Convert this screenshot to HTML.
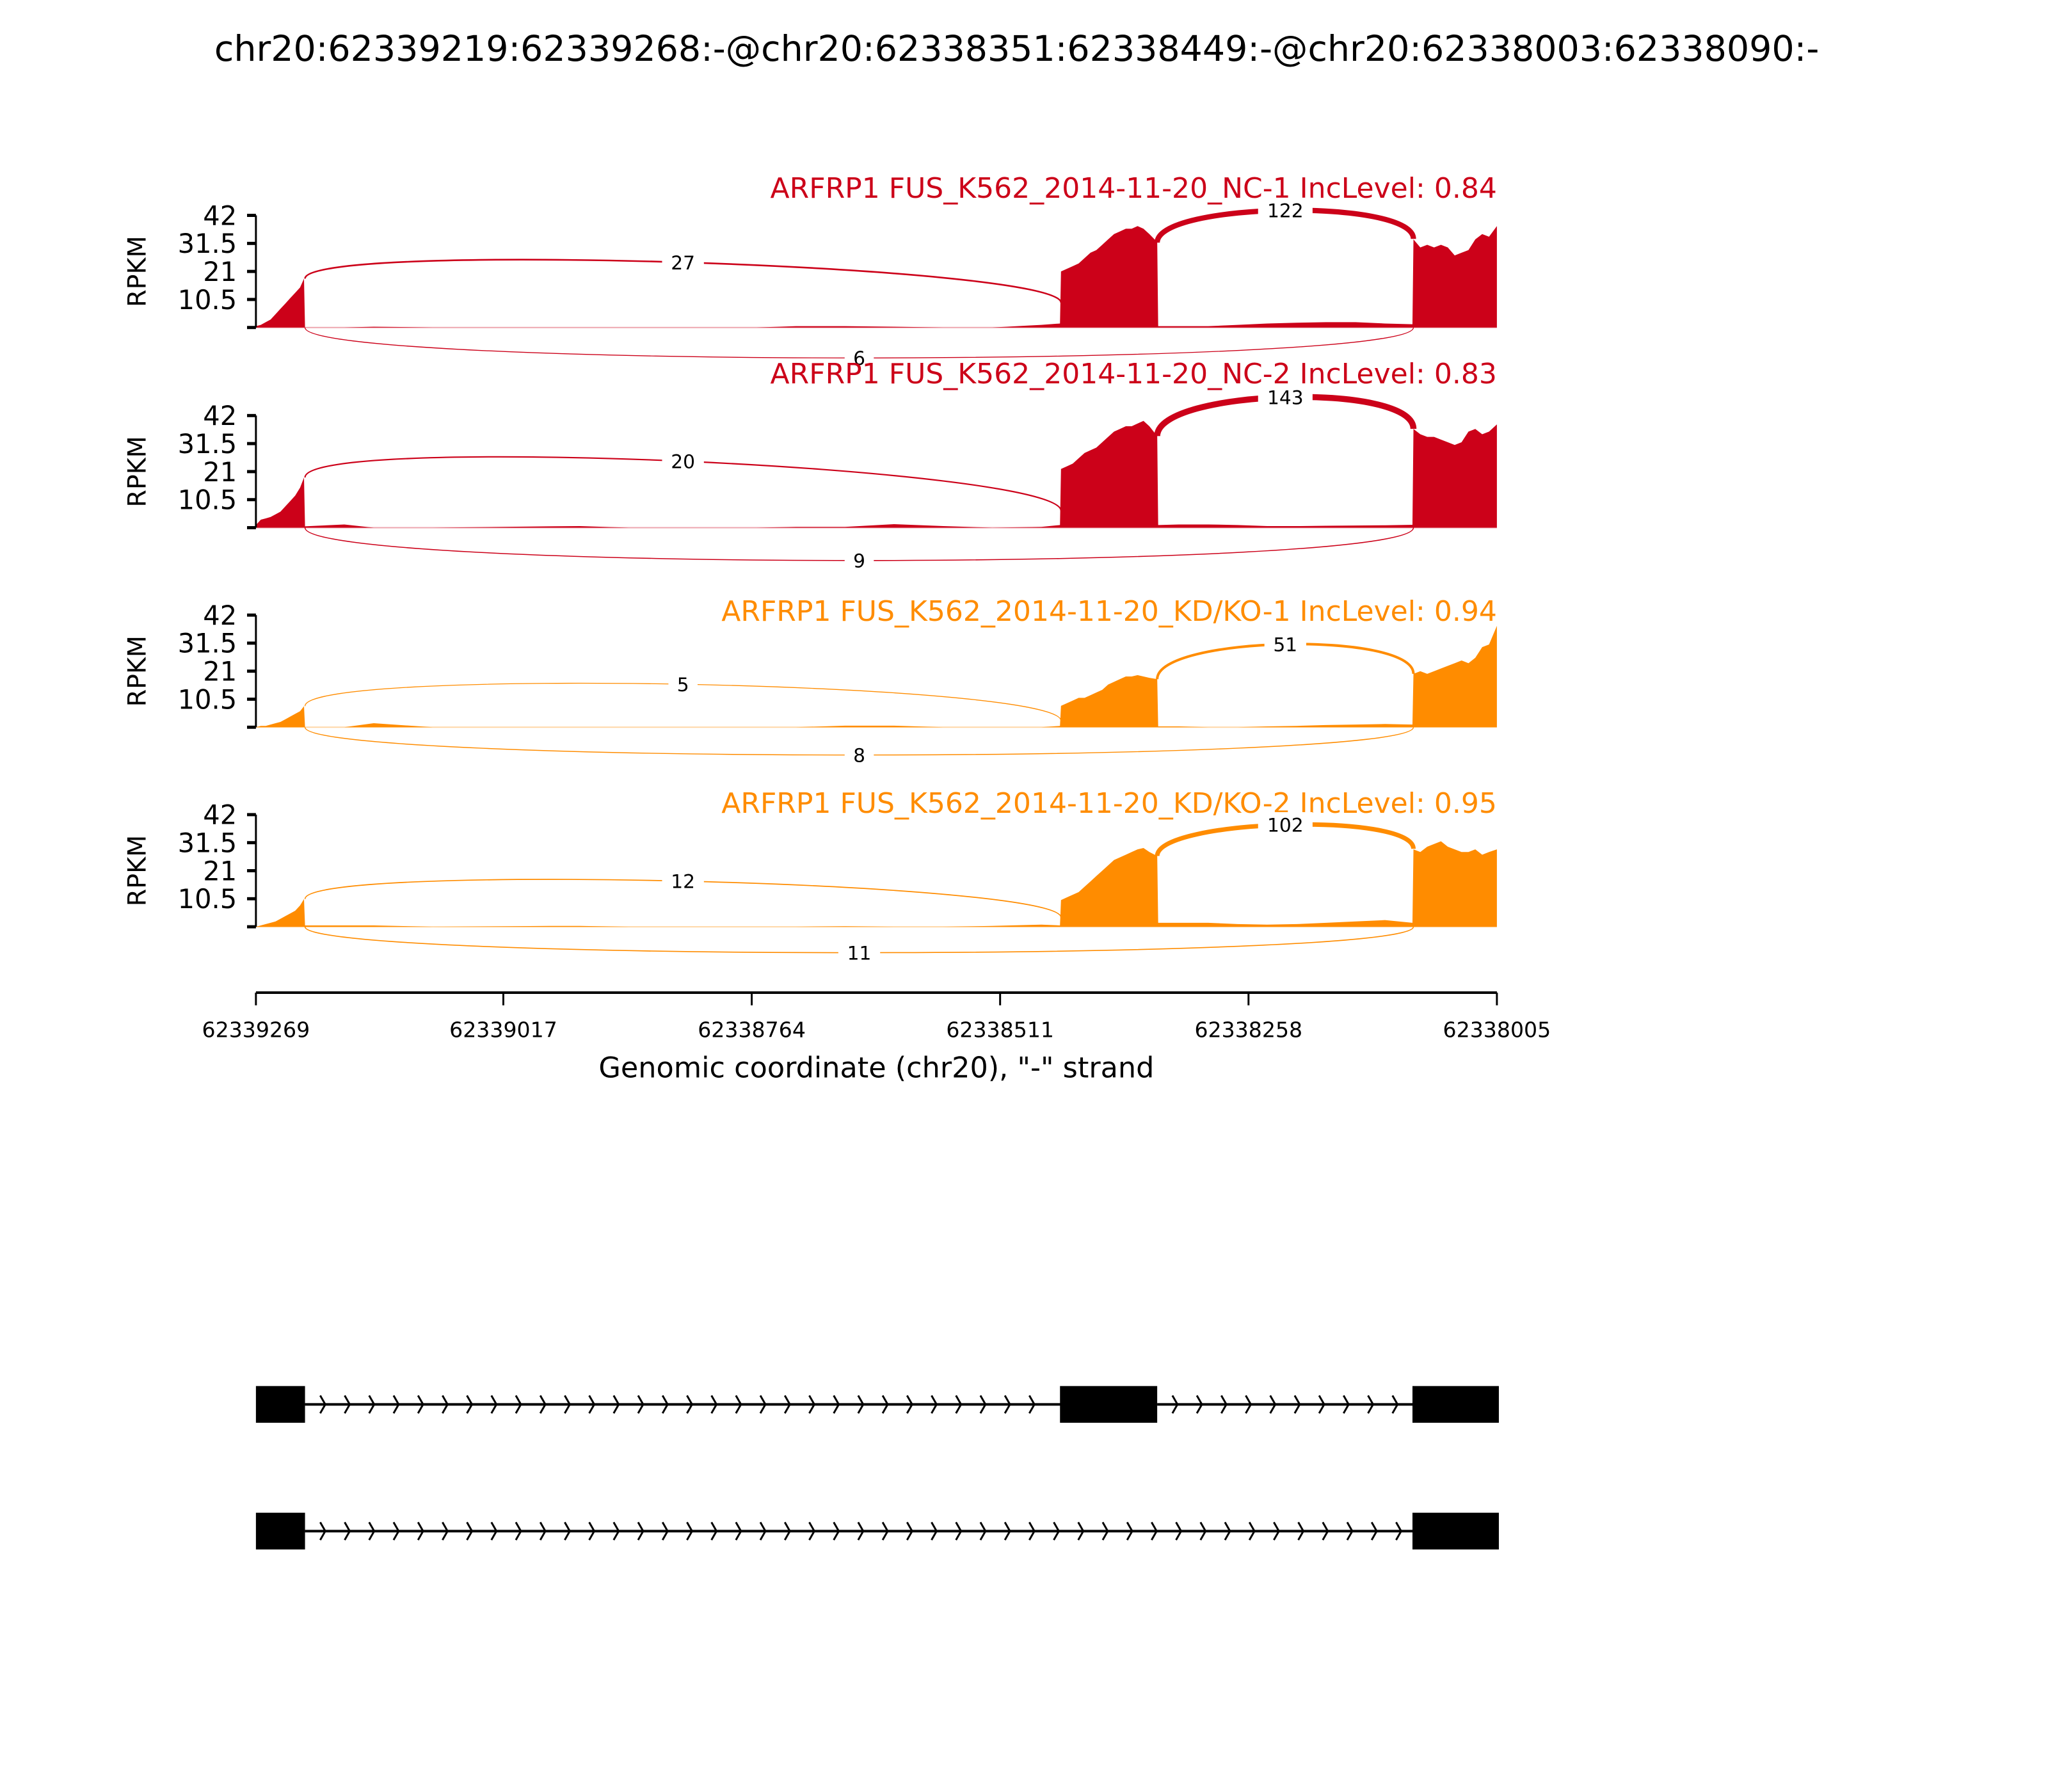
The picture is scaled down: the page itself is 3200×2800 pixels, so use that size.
<!DOCTYPE html>
<html><head><meta charset="utf-8"><style>
html,body{margin:0;padding:0;background:#fff;}
svg{display:block;font-family:"DejaVu Sans","Liberation Sans",sans-serif;}
</style></head><body>
<svg id="chart" width="3200" height="2800" viewBox="0 0 3200 2800" xmlns="http://www.w3.org/2000/svg">
<rect x="0" y="0" width="3200" height="2800" fill="#fff"/>
<g transform="scale(0.9898)">
<text x="1605" y="96" font-size="56" text-anchor="middle" fill="#000">chr20:62339219:62339268:-@chr20:62338351:62338449:-@chr20:62338003:62338090:-</text>
<g id="panels"></g>
<g id="xaxis"></g>
<g id="models"></g>
</g>
</svg>
<script>
// ---- data ----
const genomeStart = 62339269;
const genomeEnd = 62338005;
const xTickLabels = [62339269, 62339017, 62338764, 62338511, 62338258, 62338005];
const yTickValues = [0, 10.5, 21, 31.5, 42];
const yMax = 42;
// exons (genomic start/end, minus strand)
const exonStarts = [62339268, 62338449, 62338090];
const exonEnds = [62339219, 62338351, 62338003];
// coverage sample positions as bp offsets from genomeStart
const covOffsets = [0,5,10,15,20,25,30,35,40,45,49,
  50,90,120,180,300,330,380,430,470,510,550,600,650,700,750,800,819,
  820,826,832,838,844,850,856,862,868,874,880,886,892,898,904,910,918,
  919,940,970,1000,1030,1060,1090,1120,1150,1178,
  1179,1186,1193,1200,1207,1214,1221,1228,1235,1242,1249,1256,1264];
const sampleNames = ["ARFRP1 FUS_K562_2014-11-20_NC-1 IncLevel: 0.84","ARFRP1 FUS_K562_2014-11-20_NC-2 IncLevel: 0.83","ARFRP1 FUS_K562_2014-11-20_KD/KO-1 IncLevel: 0.94","ARFRP1 FUS_K562_2014-11-20_KD/KO-2 IncLevel: 0.95"];
const covNC1 = [0.5,1,2,3,5,7,9,11,13,15,18.3,
  0,0,0.3,0,0,0,0,0,0,0,0.5,0.5,0.3,0,0,1,1.5,
  21,22,23,24,26,28,29,31,33,35,36,37,37,38,37,35,32,
  0.5,0.5,0.5,1,1.5,1.8,2,2,1.5,1.2,
  33,30,31,30,31,30,27,28,29,33,35,34,38];
const covNC2 = [1,3,3.5,4,5,6,8,10,12,15,18.8,
  0.5,1.2,0,0,0.5,0.6,0,0,0,0,0.3,0.3,1.3,0.6,0,0.3,1,
  22,23,24,26,28,29,30,32,34,36,37,38,38,39,40,38,34.3,
  1,1.2,1.2,1,0.6,0.6,0.7,0.8,0.9,1.1,
  37,35,34,34,33,32,31,32,36,37,35,36,38.7];
const covKD1 = [0,0.5,0.5,1,1.5,2,3,4,5,6,7.9,
  0,0,1.5,0,0,0,0,0,0,0,0,0.6,0.6,0,0,0,0.5,
  8,9,10,11,11,12,13,14,16,17,18,19,19,19.5,19,18.5,18,
  0.3,0.3,0,0,0.3,0.5,0.8,1,1.2,1,
  20,21,20,21,22,23,24,25,24,26,30,31,38];
const covKD2 = [0,0.5,1,1.5,2,3,4,5,6,8,10.4,
  0.5,0.5,0.5,0,0.3,0.3,0,0,0,0,0,0.2,0,0,0.3,0.8,0.5,
  10,11,12,13,15,17,19,21,23,25,26,27,28,29,29.5,28,26.5,
  1.5,1.5,1.5,1,0.8,1,1.5,2,2.5,1.5,
  29,28,30,31,32,30,29,28,28,29,27,28,29];
// junction counts: [exon1-exon2, exon2-exon3, exon1-exon3 (skip)]
const juncNC1 = [27,122,6];
const juncNC2 = [20,143,9];
const juncKD1 = [5,51,8];
const juncKD2 = [12,102,11];
// arc endpoint RPKM and label height RPKM
const arcStartNC1 = [18.3,31.8], arcEndNC1 = [9.3,33.2], arcPeakNC1 = [24.4,43.9,-11.4];
const arcStartNC2 = [18.8,34.3], arcEndNC2 = [6.3,37], arcPeakNC2 = [24.9,48.9,-12.3];
const arcStartKD1 = [7.9,18], arcEndKD1 = [2.4,20], arcPeakKD1 = [16.1,31.1,-10.4];
const arcStartKD2 = [10.4,26.5], arcEndKD2 = [3.5,29.2], arcPeakKD2 = [17.1,38.2,-9.7];

// ---- layout ----
const X0 = 404, X1 = 2363, PH = 177;
const panelTops = [340, 656, 971, 1286];
const titleYs = [312, 605, 980, 1283];
const colors = ["#cc0119","#cc0119","#ff8c00","#ff8c00"];
const covs = [covNC1,covNC2,covKD1,covKD2];
const juncs = [juncNC1,juncNC2,juncKD1,juncKD2];
const aS = [arcStartNC1,arcStartNC2,arcStartKD1,arcStartKD2];
const aE = [arcEndNC1,arcEndNC2,arcEndKD1,arcEndKD2];
const aP = [arcPeakNC1,arcPeakNC2,arcPeakKD1,arcPeakKD2];
const NS = "http://www.w3.org/2000/svg";
function xG(g){ return X0 + (genomeStart - g) / (genomeStart - genomeEnd) * (X1 - X0); }
function xOff(d){ return xG(genomeStart - d); }
function mk(tag, attrs, parent){ const e = document.createElementNS(NS, tag); for (const k in attrs) e.setAttribute(k, attrs[k]); parent.appendChild(e); return e; }

const panelsG = document.getElementById('panels');
for (let p = 0; p < 4; p++) {
  const top = panelTops[p];
  const yS = v => top + PH - v / yMax * PH;
  const g = mk('g', {}, panelsG);
  
  
  const col = colors[p];
  const bl = mk('line', {x1:X0, x2:X1, y1:yS(0), y2:yS(0), stroke:col, 'stroke-opacity':0.35, 'stroke-width':2}, g);
  
  
  let d = 'M' + xOff(covOffsets[0]) + ',' + yS(0);
  covs[p].forEach((v, i) => { d += ' L' + xOff(covOffsets[i]).toFixed(1) + ',' + yS(v).toFixed(1); });
  d += ' L' + xOff(covOffsets[covOffsets.length-1]) + ',' + yS(0) + ' Z';
  const area = mk('path', {d:d, fill:col}, g);
  
  
  const ax = mk('line', {x1:X0, x2:X0, y1:top, y2:top+PH, stroke:'#000', 'stroke-width':3}, g);
  
  
  yTickValues.forEach(v => {
    const t = mk('line', {x1:X0-14, x2:X0, y1:yS(v), y2:yS(v), stroke:'#000', 'stroke-width':5}, g);
    
    
    if (v > 0) {
      const tl = mk('text', {x:X0-30, y:yS(v)+15, 'font-size':42, 'text-anchor':'end', fill:'#000'}, g);
      tl.textContent = String(v);
      
      
    }
  });
  const yl = mk('text', {x:0, y:0, 'font-size':40, 'text-anchor':'middle', fill:'#000', transform:'translate(230,' + (top+PH/2) + ') rotate(-90)'}, g);
  yl.textContent = 'RPKM';
  
  
  const tt = mk('text', {x:X1, y:titleYs[p], 'font-size':44.5, 'text-anchor':'end', fill:col}, g);
  tt.textContent = sampleNames[p];
  
  
  const ends = [[xG(exonEnds[0]), xG(exonStarts[1])], [xG(exonEnds[1]), xG(exonStarts[2])], [xG(exonEnds[0]), xG(exonStarts[2])]];
  for (let j = 0; j < 3; j++) {
    const a = ends[j][0], b = ends[j][1];
    const y1 = j < 2 ? yS(aS[p][j]) : yS(0);
    const y2 = j < 2 ? yS(aE[p][j]) : yS(0);
    const yPk = yS(aP[p][j]);
    const h = (yPk - (y1 + y2) / 2) / 0.75;
    const w = 1 + juncs[p][j] * 0.06;
    const arc = mk('path', {d:'M'+a+','+y1+' C'+a+','+(y1+h)+' '+b+','+(y2+h)+' '+b+','+y2, fill:'none', stroke:col, 'stroke-width':w}, g);
    
    
    const mx = (a + b) / 2;
    const lab = String(juncs[p][j]);
    const bw = lab.length * 20 + 26;
    const bg = mk('rect', {x:mx-bw/2, y:yPk-20, width:bw, height:40, fill:'#fff'}, g);
    
    
    const jt = mk('text', {x:mx, y:yPk+11, 'font-size':30, 'text-anchor':'middle', fill:'#000'}, g);
    jt.textContent = lab;
    
    
  }
}

const xa = document.getElementById('xaxis');
const AY = 1567;
const xl = mk('line', {x1:X0, x2:X1, y1:AY, y2:AY, stroke:'#000', 'stroke-width':4}, xa);


xTickLabels.forEach(v => {
  const t = mk('line', {x1:xG(v), x2:xG(v), y1:AY, y2:AY+20, stroke:'#000', 'stroke-width':3}, xa);
  
  
  const tl = mk('text', {x:xG(v), y:1637, 'font-size':33.5, 'text-anchor':'middle', fill:'#000'}, xa);
  tl.textContent = String(v);
  
  
});
const xt = mk('text', {x:(X0+X1)/2, y:1701, 'font-size':45, 'text-anchor':'middle', fill:'#000'}, xa);
xt.textContent = 'Genomic coordinate (chr20), "-" strand';



const mg = document.getElementById('models');
const modelExons = [[0,1,2],[0,2]];
const modelTops = [2188, 2388];
modelExons.forEach((ex, m) => {
  const t = modelTops[m], cy = t + 29;
  for (let k = 0; k < ex.length - 1; k++) {
    const a = xG(exonEnds[ex[k]]), b = xG(exonStarts[ex[k+1]]);
    const ln = mk('line', {x1:a, x2:b, y1:cy, y2:cy, stroke:'#000', 'stroke-width':4}, mg);
    
    
    for (let x = a + 32; x < b - 4; x += 38.6) {
      const ar = mk('path', {d:'M'+(x-8)+','+(cy-14)+' L'+x+','+cy+' L'+(x-8)+','+(cy+14), fill:'none', stroke:'#000', 'stroke-width':3}, mg);
      
      
    }
  }
  ex.forEach(i => {
    const a = xG(exonStarts[i] + 1), b = xG(exonEnds[i]);
    const r = mk('rect', {x:Math.min(a,b), y:t, width:Math.abs(b-a), height:58, fill:'#000'}, mg);
    
    
  });
});
</script>
</body></html>
